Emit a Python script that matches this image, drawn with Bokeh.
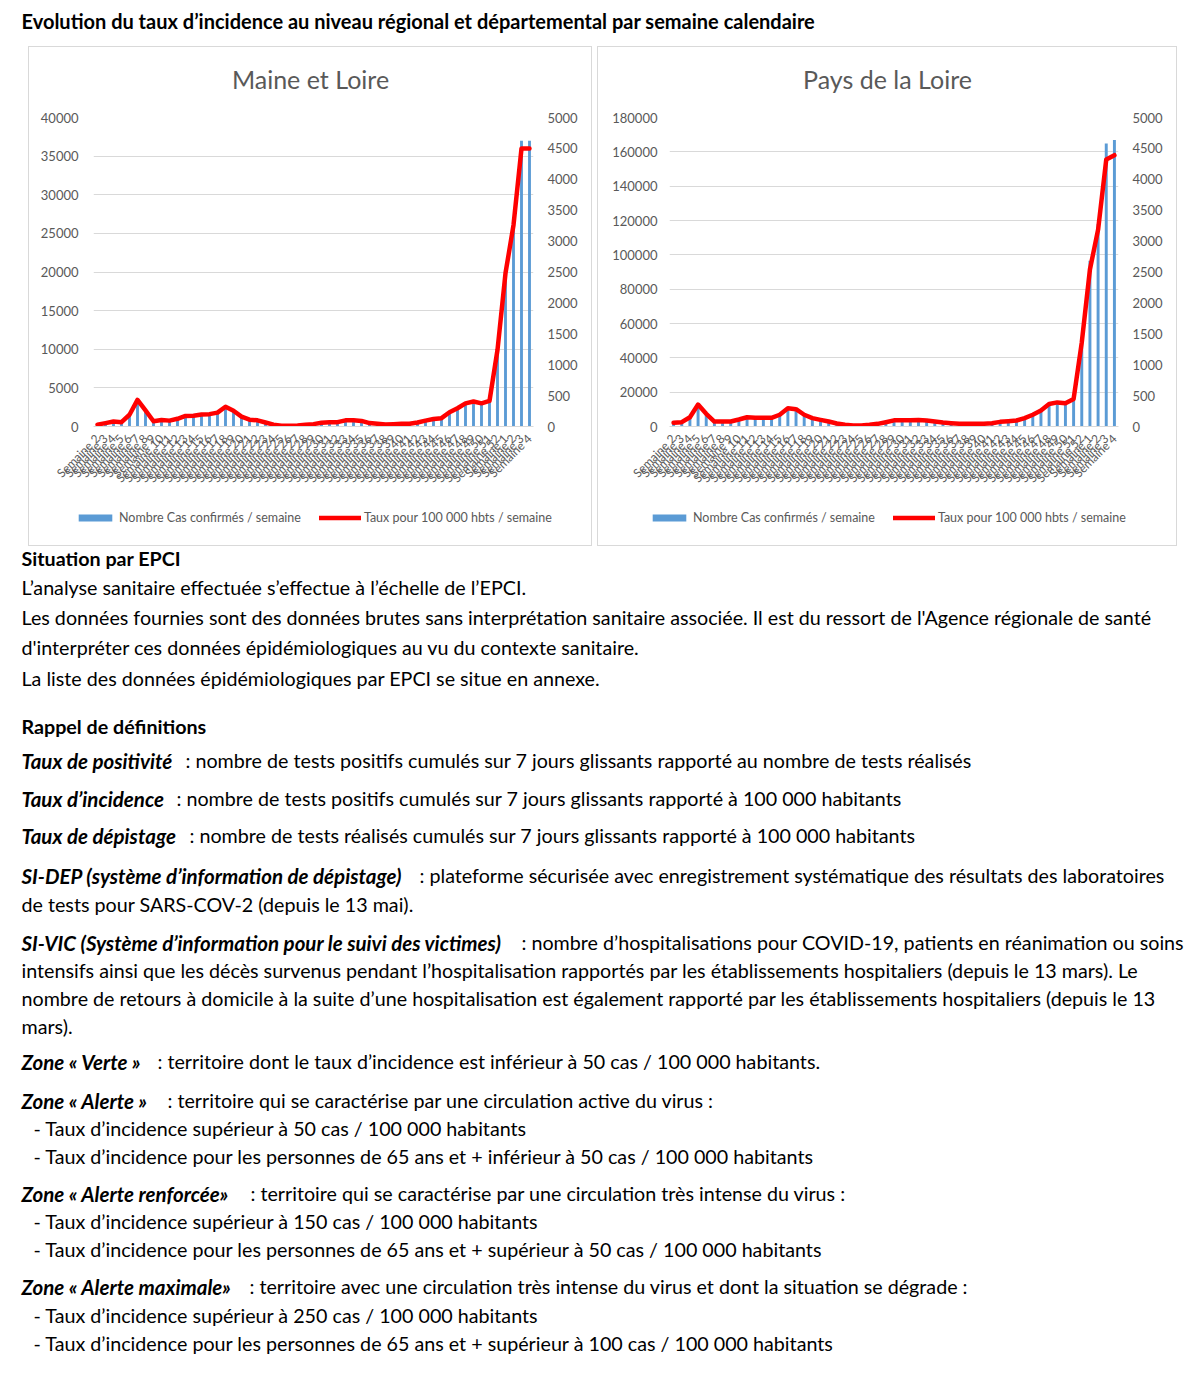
from math import pi
from bokeh.plotting import figure
from bokeh.models import (Range1d, LinearAxis, FixedTicker, Legend, LegendItem,
                          ColumnDataSource, Spacer, PrintfTickFormatter)
from bokeh.layouts import column, row
from bokeh.embed import file_html
from bokeh.resources import INLINE
from bokeh.core.properties import value

# ---------------- data ----------------
week_numbers = list(range(2, 53)) + [1, 2, 3, 4]
week_labels = ["Semaine %d" % w for w in week_numbers]

ml_cases = [250, 450, 650, 570, 1550, 3500, 2100, 700, 860, 780,
            1020, 1390, 1430, 1600, 1640, 1840, 2620, 2090, 1310, 900,
            820, 530, 250, 100, 100, 150, 220, 310, 490, 570,
            570, 820, 820, 740, 450, 370, 260, 310, 370, 370,
            530, 780, 980, 1100, 1880, 2410, 3070, 3310, 3070, 3400,
            10150, 20200, 26700, 37000, 37000]
ml_rates = [30, 55, 80, 70, 190, 430, 260, 85, 105, 95,
            125, 170, 175, 195, 200, 225, 320, 255, 160, 110,
            100, 65, 30, 12, 12, 18, 27, 38, 60, 70,
            70, 100, 100, 90, 55, 45, 32, 38, 45, 45,
            65, 95, 120, 135, 230, 295, 375, 405, 375, 415,
            1240, 2480, 3260, 4500, 4500]

pdl_cases = [2300, 2700, 5700, 13500, 7800, 3000, 3000, 3000, 4300, 5700,
             5300, 5300, 5300, 7200, 11200, 10600, 7200, 5100, 4100, 3000,
             1800, 1000, 600, 600, 1000, 1600, 2700, 3800, 3800, 3800,
             4100, 3700, 3000, 2500, 2100, 1600, 1600, 1600, 1600, 2100,
             2900, 3300, 3700, 5100, 7200, 9800, 13900, 14800, 14300, 16900,
             51700, 96500, 118000, 164900, 166900]
pdl_rates = [60, 70, 150, 355, 205, 80, 80, 80, 113, 150,
             140, 140, 140, 190, 295, 280, 190, 135, 107, 80,
             48, 27, 16, 16, 27, 43, 70, 100, 100, 100,
             107, 97, 80, 65, 54, 43, 43, 43, 43, 54,
             75, 86, 97, 135, 190, 258, 365, 390, 375, 445,
             1360, 2540, 3185, 4320, 4390]

left_ticks_ml = list(range(0, 40001, 5000))
left_ticks_pdl = list(range(0, 180001, 20000))
right_ticks = list(range(0, 5001, 500))

chart_titles = ["Maine et Loire", "Pays de la Loire"]
legend_labels = ["Nombre Cas confirmés / semaine", "Taux pour 100 000 hbts / semaine"]

FONT = "Lato"
GREY = "#595959"
BOX = {"box-shadow": "inset 0 0 0 1px #d9d9d9"}
BAR_STYLE = dict(fill_color="#5b9bd5", line_color=None)
LINE_STYLE = dict(line_color="#ff0000", line_width=4.5, line_join="round", line_cap="round")

TITLE_H = 61
CHART_H = 394
LEGEND_H = 45


def strip(width, height):
    f = figure(width=width, height=height, x_range=Range1d(0, width),
               y_range=Range1d(height, 0), output_backend="svg",
               toolbar_location=None, min_border=0,
               x_axis_type=None, y_axis_type=None,
               background_fill_color=None, border_fill_color=None)
    f.grid.visible = False
    f.outline_line_color = None
    return f


def make_title(text, width):
    f = strip(width, TITLE_H)
    f.text(x=[width / 2], y=[32], text=[text], text_font=value(FONT),
           text_font_size="25px", text_color=GREY, text_align="center",
           text_baseline="middle")
    return row(f)


def make_chart(src, left_ticks, labels, width, left_border, left_standoff):
    n = len(labels)
    xs = list(range(n))
    p = figure(width=width, height=CHART_H,
               x_range=Range1d(-0.5, n - 0.5),
               y_range=Range1d(0, left_ticks[-1]),
               output_backend="svg", toolbar_location=None,
               min_border_left=left_border, min_border_right=59,
               min_border_top=10, min_border_bottom=CHART_H - 10 - 309,
               background_fill_color=None, border_fill_color=None)
    p.extra_y_ranges = {"taux": Range1d(0, 5000)}
    p.vbar(x="x", top="cases", width=0.36, source=src, **BAR_STYLE)
    p.line(x="x", y="rates", source=src, y_range_name="taux", **LINE_STYLE)

    p.outline_line_color = None
    p.xgrid.visible = False
    p.ygrid.grid_line_color = "#d9d9d9"
    p.ygrid.ticker = FixedTicker(ticks=left_ticks)

    ya = p.yaxis[0]
    ya.ticker = FixedTicker(ticks=left_ticks)
    ya.formatter = PrintfTickFormatter(format="%d")
    ra = LinearAxis(y_range_name="taux", ticker=FixedTicker(ticks=right_ticks),
                    formatter=PrintfTickFormatter(format="%d"))
    p.add_layout(ra, "right")
    for ax in (ya, ra):
        ax.axis_line_color = None
        ax.major_tick_line_color = None
        ax.minor_tick_line_color = None
        ax.major_label_text_font = FONT
        ax.major_label_text_font_size = "13px"
        ax.major_label_text_color = GREY
    ya.major_label_standoff = left_standoff
    ra.major_label_standoff = 8

    xa = p.xaxis[0]
    xa.ticker = FixedTicker(ticks=xs)
    xa.major_label_overrides = {i: lab for i, lab in zip(xs, labels)}
    xa.major_label_orientation = pi / 4
    xa.axis_line_color = "#d9d9d9"
    xa.major_tick_line_color = None
    xa.minor_tick_line_color = None
    xa.major_label_text_font = FONT
    xa.major_label_text_font_size = "12px"
    xa.major_label_text_color = GREY
    xa.major_label_standoff = 4
    return p


def make_legend(src, width, legend_x):
    # the series are drawn off-range here: only the legend of this strip is seen
    f = figure(width=width, height=LEGEND_H, x_range=Range1d(-1000, -999),
               y_range=Range1d(-1000, -999),
               output_backend="svg", toolbar_location=None, min_border=0,
               x_axis_type=None, y_axis_type=None,
               background_fill_color=None, border_fill_color=None)
    f.grid.visible = False
    f.outline_line_color = None
    bars = f.vbar(x="x", top="cases", width=0.36, source=src, **BAR_STYLE)
    line = f.line(x="x", y="rates", source=src, **LINE_STYLE)
    legend = Legend(items=[LegendItem(label=legend_labels[0], renderers=[bars]),
                           LegendItem(label=legend_labels[1], renderers=[line])],
                    orientation="horizontal", location=(legend_x, 21),
                    border_line_color=None, background_fill_alpha=0,
                    glyph_width=42, glyph_height=9, label_height=14,
                    label_text_font=FONT, label_text_font_size="12.5px",
                    label_text_color=GREY, label_standoff=3, spacing=18,
                    padding=0, margin=0)
    f.add_layout(legend)
    return row(f)


ml_src = ColumnDataSource(dict(x=list(range(len(ml_cases))), cases=ml_cases, rates=ml_rates))
pdl_src = ColumnDataSource(dict(x=list(range(len(pdl_cases))), cases=pdl_cases, rates=pdl_rates))

ml_box = column(make_title(chart_titles[0], 564),
                make_chart(ml_src, left_ticks_ml, week_labels, 564, 65, 9),
                make_legend(ml_src, 564, 46), styles=BOX)
pdl_box = column(make_title(chart_titles[1], 580),
                 make_chart(pdl_src, left_ticks_pdl, week_labels, 580, 72, 6),
                 make_legend(pdl_src, 580, 51), styles=BOX)

# ---------------- texts ----------------
page_title = "Evolution du taux d’incidence au niveau régional et départemental par semaine calendaire"

headings = ["Situation par EPCI", "Rappel de définitions"]
heading_y = [558, 726]

plain_lines = [
    "L’analyse sanitaire effectuée s’effectue à l’échelle de l’EPCI.",
    "Les données fournies sont des données brutes sans interprétation sanitaire associée. Il est du ressort de l'Agence régionale de santé",
    "d'interpréter ces données épidémiologiques au vu du contexte sanitaire.",
    "La liste des données épidémiologiques par EPCI se situe en annexe.",
    "de tests pour SARS-COV-2 (depuis le 13 mai).",
    "intensifs ainsi que les décès survenus pendant l’hospitalisation rapportés par les établissements hospitaliers (depuis le 13 mars). Le",
    "nombre de retours à domicile à la suite d’une hospitalisation est également rapporté par les établissements hospitaliers (depuis le 13",
    "mars).",
]
plain_y = [587, 617, 647, 678, 904, 970, 998, 1026]

bullet_lines = [
    "- Taux d’incidence supérieur à 50 cas / 100 000 habitants",
    "- Taux d’incidence pour les personnes de 65 ans et + inférieur à 50 cas / 100 000 habitants",
    "- Taux d’incidence supérieur à 150 cas / 100 000 habitants",
    "- Taux d’incidence pour les personnes de 65 ans et + supérieur à 50 cas / 100 000 habitants",
    "- Taux d’incidence supérieur à 250 cas / 100 000 habitants",
    "- Taux d’incidence pour les personnes de 65 ans et + supérieur à 100 cas / 100 000 habitants",
]
bullet_y = [1128, 1156, 1221, 1249, 1315, 1343]

terms = ["Taux de positivité", "Taux d’incidence", "Taux de dépistage",
         "SI-DEP (système d’information de dépistage)",
         "SI-VIC (Système d’information pour le suivi des victimes)",
         "Zone « Verte »", "Zone « Alerte »", "Zone « Alerte renforcée»",
         "Zone « Alerte maximale»"]
definitions = [
    ": nombre de tests positifs cumulés sur 7 jours glissants rapporté au nombre de tests réalisés",
    ": nombre de tests positifs cumulés sur 7 jours glissants rapporté à 100 000 habitants",
    ": nombre de tests réalisés cumulés sur 7 jours glissants rapporté à 100 000 habitants",
    ": plateforme sécurisée avec enregistrement systématique des résultats des laboratoires",
    ": nombre d’hospitalisations pour COVID-19, patients en réanimation ou soins",
    ": territoire dont le taux d’incidence est inférieur à 50 cas / 100 000 habitants.",
    ": territoire qui se caractérise par une circulation active du virus :",
    ": territoire qui se caractérise par une circulation très intense du virus :",
    ": territoire avec une circulation très intense du virus et dont la situation se dégrade :",
]
term_y = [760, 798, 835, 875, 942, 1061, 1100, 1193, 1286]
def_x = [185, 176, 189, 419, 521, 157, 167, 250, 249]

BODY_SIZE = "19.7px"
TERM_SIZE = "20.5px"


def blank(width, height, y0, y1):
    f = figure(width=width, height=height, x_range=Range1d(0, width),
               y_range=Range1d(y1, y0), output_backend="svg", toolbar_location=None,
               min_border=0, x_axis_type=None, y_axis_type=None)
    f.grid.visible = False
    f.outline_line_color = None
    return f


top = blank(1200, 46, 0, 46)
top.text(x=[21], y=[20], text=[page_title], text_font=value(FONT),
         text_font_size="20px", text_font_style="bold", text_baseline="middle",
         text_color="black")

body = blank(1200, 827, 546, 1373)
common = dict(text_font=value(FONT), text_baseline="middle",
              text_color="black", text_align="left")
body.text(x=[21] * len(headings), y=heading_y, text=headings, text_font_style="bold",
          text_font_size=BODY_SIZE, **common)
body.text(x=[21] * len(plain_lines), y=plain_y, text=plain_lines,
          text_font_size=BODY_SIZE, **common)
body.text(x=[33] * len(bullet_lines), y=bullet_y, text=bullet_lines,
          text_font_size=BODY_SIZE, **common)
body.text(x=[21] * len(terms), y=term_y, text=terms, text_font_style="bold italic",
          text_font_size=TERM_SIZE, **common)
body.text(x=def_x, y=term_y, text=definitions, text_font_size=BODY_SIZE, **common)

charts = row(Spacer(width=28, height=500), ml_box, Spacer(width=5, height=500), pdl_box)
layout = column(top, charts, body)

open("out.html", "w").write(file_html(layout, INLINE))
